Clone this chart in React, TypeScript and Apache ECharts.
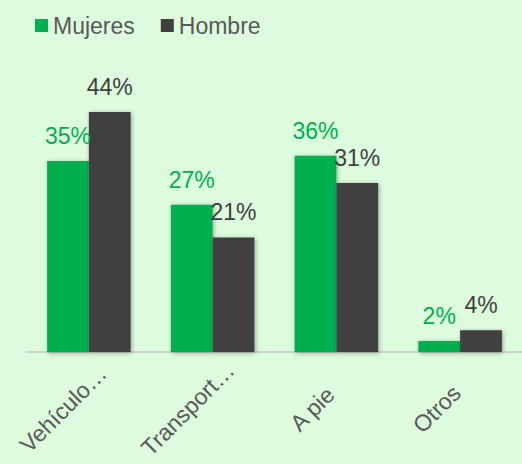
import React, { useEffect, useRef } from "react";
import * as echarts from "echarts";

const categories = ["Vehículo…", "Transport…", "A pie", "Otros"];
const mujeres = [35, 27, 36, 2];
const hombre = [44, 21, 31, 4];
const seriesNames = ["Mujeres", "Hombre"];

const GREEN = "#00B050";
const DARK = "#404040";
const FONT = "Liberation Sans, Arial, sans-serif";
const FS = 23;

export default function App() {
  const ref = useRef<HTMLDivElement>(null);
  useEffect(() => {
    if (!ref.current) return;
    const chart = echarts.init(ref.current, undefined, { renderer: "svg" });
    const shadow = {
      shadowBlur: 4,
      shadowColor: "rgba(0,0,0,0.35)",
      shadowOffsetX: 1,
      shadowOffsetY: 1,
    };
    const label = (color: string) => ({
      show: true,
      position: "top",
      distance: 13.5,
      formatter: "{c}%",
      fontFamily: FONT,
      fontSize: FS,
      color,
    });
    chart.setOption({
      animation: false,
      backgroundColor: "#DDFBDD",
      legend: {
        left: 30,
        top: 9,
        icon: "rect",
        itemWidth: 13,
        itemHeight: 13,
        itemGap: 26,
        textStyle: { fontFamily: FONT, fontSize: FS, color: "#595959" },
        data: seriesNames,
      },
      grid: [
        { left: 27, right: -3, top: 112, bottom: 112 },
        { left: 1, right: 23, top: 112, bottom: 112 },
      ],
      xAxis: [
        {
          type: "category",
          gridIndex: 0,
          data: categories,
          axisLine: { lineStyle: { color: "#D0D0D0", width: 2 } },
          axisTick: { show: false },
          axisLabel: { show: false },
        },
        {
          type: "category",
          gridIndex: 1,
          data: categories,
          axisLine: { show: false },
          axisTick: { show: false },
          axisLabel: {
            rotate: 45,
            align: "center",
            verticalAlign: "middle",
            margin: 57,
            interval: 0,
            fontFamily: FONT,
            fontSize: FS,
            color: "#595959",
          },
        },
      ],
      yAxis: [
        { type: "value", gridIndex: 0, min: 0, max: 44, show: false },
        { type: "value", gridIndex: 1, min: 0, max: 44, show: false },
      ],
      series: [
        {
          name: seriesNames[0],
          type: "bar",
          xAxisIndex: 0,
          yAxisIndex: 0,
          data: mujeres,
          barGap: "0%",
          barCategoryGap: "32.5%",
          itemStyle: { color: GREEN, ...shadow },
          label: label(GREEN),
        },
        {
          name: seriesNames[1],
          type: "bar",
          xAxisIndex: 0,
          yAxisIndex: 0,
          data: hombre,
          barGap: "0%",
          barCategoryGap: "32.5%",
          itemStyle: { color: DARK, ...shadow },
          label: label(DARK),
        },
      ],
    });
    return () => chart.dispose();
  }, []);
  return <div ref={ref} style={{ width: 522, height: 464, position: "absolute", left: 0, top: 0 }} />;
}
